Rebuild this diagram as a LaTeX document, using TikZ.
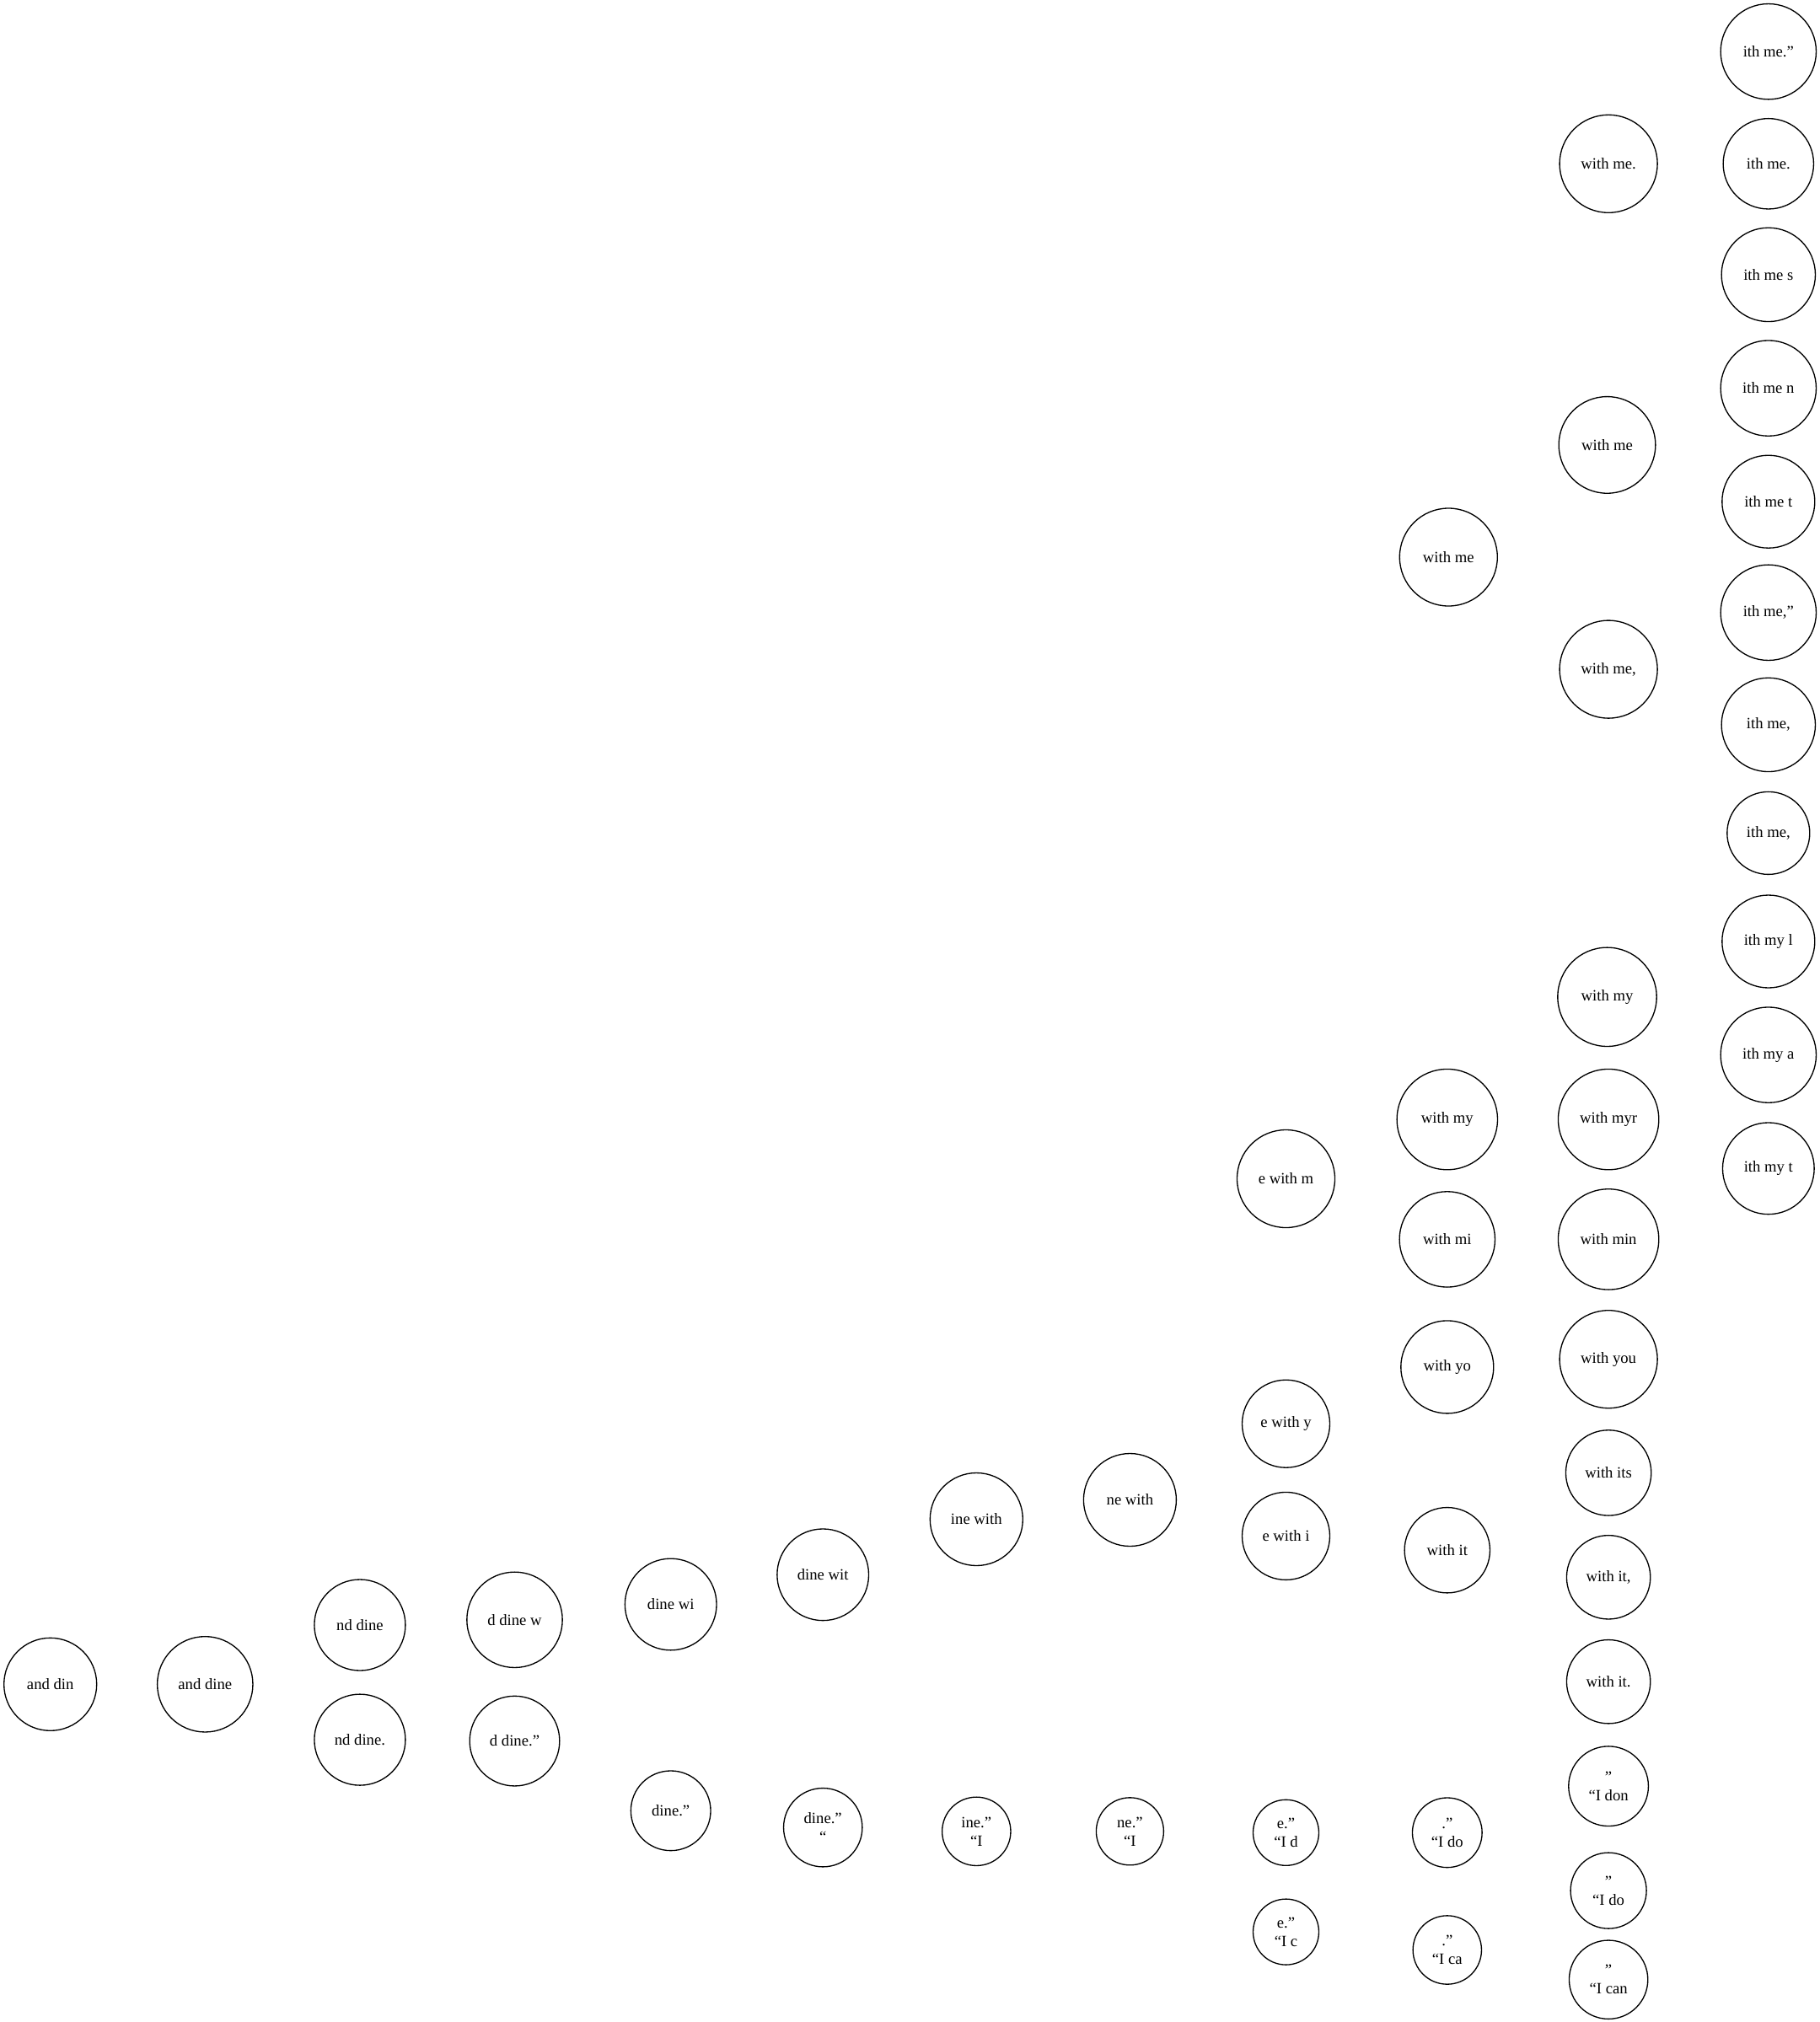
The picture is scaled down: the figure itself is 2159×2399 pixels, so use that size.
\documentclass[tikz,border=0pt]{standalone}
\usepackage{fontspec}
\setmainfont{Liberation Serif}
\usepackage{tikz}

\begin{document}
\begin{tikzpicture}[x=0.75pt,y=-0.75pt,
  st/.style={draw,circle,line width=1pt,inner sep=0pt,align=center,font=\fontsize{14}{16.5}\selectfont}]
  \useasboundingbox (0,0) rectangle (2159,2399);
  % column 1 and 2
  \node[st,minimum size=82.5pt] (anddin) at (59.7,1998.3) {and din};
  \node[st,minimum size=85pt] (anddine) at (243.3,1998.3) {and dine};
  % column 3
  \node[st,minimum size=81pt] (nddine) at (426.9,1928) {nd dine};
  \node[st,minimum size=81pt] (nddinep) at (426.9,2064.1) {nd dine.};
  % column 4
  \node[st,minimum size=85pt] (ddinew) at (610.5,1921.8) {d dine w};
  \node[st,minimum size=80pt] (ddineq) at (610.5,2065.6) {d dine.”};
  % column 5
  \node[st,minimum size=81.5pt] (dinewi) at (795.7,1903.5) {dine wi};
  \node[st,minimum size=71pt] (dineq) at (795.7,2148.3) {dine.”};
  % column 6
  \node[st,minimum size=81.5pt] (dinewit) at (976.2,1868.3) {dine wit};
  \node[st,minimum size=70pt] (dineqq) at (976.2,2168.2) {dine.”\\“};
  % column 7
  \node[st,minimum size=82.5pt] (inewith) at (1158.3,1802.5) {ine with};
  \node[st,minimum size=61pt] (ineqI) at (1158.3,2172.8) {ine.”\\“I};
  % column 8
  \node[st,minimum size=82.5pt] (newith) at (1340.4,1779.5) {ne with};
  \node[st,minimum size=60pt] (neqI) at (1340.4,2172.8) {ne.”\\“I};
  % column 9
  \node[st,minimum size=87pt] (ewithm) at (1525.5,1398.5) {e with m};
  \node[st,minimum size=78pt] (ewithy) at (1525.5,1689.2) {e with y};
  \node[st,minimum size=78pt] (ewithi) at (1525.5,1822.4) {e with i};
  \node[st,minimum size=58.5pt] (eqId) at (1525.5,2174.3) {e.”\\“I d};
  \node[st,minimum size=58.5pt] (eqIc) at (1525.5,2292.1) {e.”\\“I c};
  % column 10
  \node[st,minimum size=87pt] (withme) at (1718.3,661) {with me};
  \node[st,minimum size=89.5pt] (withmy) at (1716.8,1328.1) {with my};
  \node[st,minimum size=85pt] (withmi) at (1716.8,1470.4) {with mi};
  \node[st,minimum size=82.5pt] (withyo) at (1716.8,1621.9) {with yo};
  \node[st,minimum size=76pt] (withit) at (1716.8,1839.2) {with it};
  \node[st,minimum size=62pt] (qIdo) at (1716.8,2174.3) {.”\\“I do};
  \node[st,minimum size=61pt] (qIca) at (1716.8,2313.5) {.”\\“I ca};
  % column 11
  \node[st,minimum size=87pt] (withmep) at (1908.1,194.3) {with me.};
  \node[st,minimum size=86pt] (withmes) at (1906.5,527.9) {with me};
  \node[st,minimum size=87pt] (withmec) at (1908.1,794.1) {with me,};
  \node[st,minimum size=88pt] (withmys) at (1906.5,1182.8) {with my};
  \node[st,minimum size=89.5pt] (withmyr) at (1908.1,1328.1) {with myr};
  \node[st,minimum size=89.5pt] (withmin) at (1908.1,1470.4) {with min};
  \node[st,minimum size=87pt] (withyou) at (1908.1,1612.7) {with you};
  \node[st,minimum size=76pt] (withits) at (1908.1,1747.4) {with its};
  \node[st,minimum size=74.5pt] (withitc) at (1908.1,1871.3) {with it,};
  \node[st,minimum size=74.5pt] (withitp) at (1908.1,1995.2) {with it.};
  \node[st,minimum size=71pt] (qIdon) at (1908.1,2119.2) {”\\“I don};
  \node[st,minimum size=67.5pt] (qIdos) at (1908.1,2243.1) {”\\“I do};
  \node[st,minimum size=70pt] (qIcan) at (1908.1,2348.7) {”\\“I can};
  % column 12
  \node[st,minimum size=85pt] (ithmepq) at (2097.8,61.2) {ith me.”};
  \node[st,minimum size=80.5pt] (ithmep) at (2097.8,194.3) {ith me.};
  \node[st,minimum size=83.5pt] (ithmes) at (2097.8,325.9) {ith me s};
  \node[st,minimum size=85pt] (ithmen) at (2097.8,460.6) {ith me n};
  \node[st,minimum size=82.5pt] (ithmet) at (2097.8,595.2) {ith me t};
  \node[st,minimum size=85pt] (ithmecq) at (2097.8,726.8) {ith me,”};
  \node[st,minimum size=83.5pt] (ithmec) at (2097.8,859.9) {ith me,};
  \node[st,minimum size=73.5pt] (ithmecs) at (2097.8,988.4) {ith me,};
  \node[st,minimum size=82.5pt] (ithmyl) at (2097.8,1117) {ith my l};
  \node[st,minimum size=85pt] (ithmya) at (2097.8,1251.6) {ith my a};
  \node[st,minimum size=81.5pt] (ithmyt) at (2097.8,1386.3) {ith my t};
\end{tikzpicture}
\end{document}
